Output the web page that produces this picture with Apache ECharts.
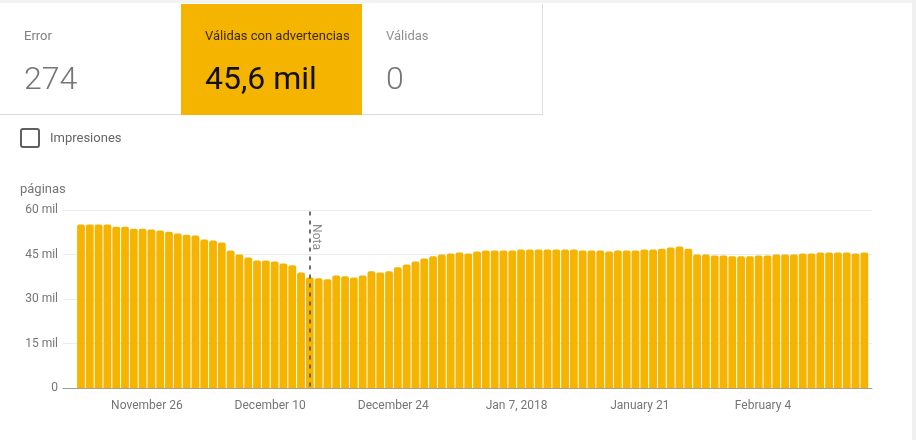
<!DOCTYPE html>
<html>
<head>
<meta charset="utf-8">
<style>
  html, body { margin: 0; padding: 0; background: #fff; }
  #chart { width: 916px; height: 440px; }
</style>
<script src="https://cdn.jsdelivr.net/npm/echarts@6/dist/echarts.min.js"></script>
</head>
<body>
<div id="chart"></div>
<script>
const categories = [
  "Nov 18", "Nov 19", "Nov 20", "Nov 21", "Nov 22", "Nov 23", "Nov 24", "Nov 25", "Nov 26", "Nov 27",
  "Nov 28", "Nov 29", "Nov 30", "Dec 1", "Dec 2", "Dec 3", "Dec 4", "Dec 5", "Dec 6", "Dec 7",
  "Dec 8", "Dec 9", "Dec 10", "Dec 11", "Dec 12", "Dec 13", "Dec 14", "Dec 15", "Dec 16", "Dec 17",
  "Dec 18", "Dec 19", "Dec 20", "Dec 21", "Dec 22", "Dec 23", "Dec 24", "Dec 25", "Dec 26", "Dec 27",
  "Dec 28", "Dec 29", "Dec 30", "Dec 31", "Jan 1", "Jan 2", "Jan 3", "Jan 4", "Jan 5", "Jan 6",
  "Jan 7", "Jan 8", "Jan 9", "Jan 10", "Jan 11", "Jan 12", "Jan 13", "Jan 14", "Jan 15", "Jan 16",
  "Jan 17", "Jan 18", "Jan 19", "Jan 20", "Jan 21", "Jan 22", "Jan 23", "Jan 24", "Jan 25", "Jan 26",
  "Jan 27", "Jan 28", "Jan 29", "Jan 30", "Jan 31", "Feb 1", "Feb 2", "Feb 3", "Feb 4", "Feb 5",
  "Feb 6", "Feb 7", "Feb 8", "Feb 9", "Feb 10", "Feb 11", "Feb 12", "Feb 13", "Feb 14", "Feb 15"
];
const paginas = [
  55100, 55100, 55100, 55100, 54400, 54400, 53700, 53700, 53400, 53100,
  52700, 52100, 51700, 51400, 50100, 49700, 49100, 46400, 45000, 44000,
  43000, 43000, 42700, 42000, 41400, 39000, 37300, 37000, 36700, 38000,
  37700, 37300, 38000, 39400, 39000, 39400, 40700, 41700, 42700, 43700,
  44400, 45000, 45400, 45700, 45400, 46000, 46400, 46400, 46400, 46400,
  46700, 46700, 46700, 46700, 46700, 46700, 46700, 46400, 46400, 46400,
  46000, 46400, 46400, 46400, 46700, 46700, 47000, 47400, 47700, 47000,
  45000, 45000, 44700, 44700, 44400, 44400, 44400, 44700, 44700, 45000,
  45000, 45000, 45400, 45400, 45700, 45700, 45700, 45700, 45400, 45700
];
const tickLabels = {
  "Nov 26": "November 26",
  "Dec 10": "December 10",
  "Dec 24": "December 24",
  "Jan 7": "Jan 7, 2018",
  "Jan 21": "January 21",
  "Feb 4": "February 4"
};
const yTicks = [0, 15000, 30000, 45000, 60000];
const noteDate = "Dec 14";

const GOLD = "#f4b400";
const FONT = "Roboto";

const label = (x, y, text, size, fill, weight) => ({
  type: "text",
  x: x,
  y: y,
  z: 10,
  style: {
    text: text,
    fill: fill,
    font: (weight || 400) + " " + size + "px " + FONT,
    verticalAlign: "middle"
  }
});

const box = (x, y, w, h, fill) => ({
  type: "rect",
  z: 1,
  shape: { x: x, y: y, width: w, height: h },
  style: { fill: fill }
});

const myChart = echarts.init(document.getElementById("chart"));
myChart.setOption({
  animation: false,
  backgroundColor: "#fff",
  textStyle: { fontFamily: FONT },
  graphic: [
    // page edges and the tiles above the chart
    box(0, 0, 916, 3, "#f3f3f3"),
    box(912, 0, 4, 440, "#f0f0f0"),
    box(0, 114, 543, 1, "#dcdcdc"),
    box(542, 4, 1, 111, "#dcdcdc"),
    box(181, 4, 181, 111, GOLD),
    label(24, 36.5, "Error", 13, "#808080"),
    label(24, 81, "274", 32, "#757575", 300),
    label(205, 36.5, "Válidas con advertencias", 13, "#3c2a00"),
    label(205, 81, "45,6 mil", 32, "#111111"),
    label(386, 36.5, "Válidas", 13, "#909090"),
    label(386, 81, "0", 32, "#757575", 300),
    {
      type: "rect",
      z: 10,
      shape: { x: 21, y: 129, width: 18, height: 18, r: 2 },
      style: { fill: "#fff", stroke: "#5f5f5f", lineWidth: 2 }
    },
    label(50, 139, "Impresiones", 13, "#666666"),
    label(20, 189.5, "páginas", 13, "#757575")
  ],
  grid: [
    { left: 76.6, right: 47.3, top: 210, height: 178.3 },
    { left: 63, right: 44, top: 210, height: 178.3 }
  ],
  xAxis: [
    {
      type: "category",
      gridIndex: 0,
      data: categories,
      axisLine: { show: false },
      axisTick: {
        length: 6,
        lineStyle: { color: "#8a8a8a" },
        interval: (i, name) => name in tickLabels
      },
      axisLabel: {
        interval: (i, name) => name in tickLabels,
        formatter: (name) => tickLabels[name],
        color: "#757575",
        fontFamily: FONT,
        fontSize: 12,
        margin: 12,
        padding: [0, 9, 0, 0]
      }
    },
    {
      type: "value",
      gridIndex: 1,
      min: 0,
      max: 1,
      axisLine: { show: true, onZero: false, lineStyle: { color: "#9a9a9a" } },
      axisTick: { show: false },
      axisLabel: { show: false },
      splitLine: { show: false }
    }
  ],
  yAxis: [
    { type: "value", gridIndex: 0, min: 0, max: 60000, interval: 15000, show: false },
    {
      type: "value",
      gridIndex: 1,
      min: yTicks[0],
      max: yTicks[yTicks.length - 1],
      interval: yTicks[1],
      axisLine: { show: false },
      axisTick: { show: false },
      axisLabel: {
        color: "#757575",
        fontFamily: FONT,
        fontSize: 12,
        margin: 5,
        padding: [5, 0, 0, 0],
        formatter: (v) => (v === 0 ? "0" : v / 1000 + " mil")
      },
      splitLine: { lineStyle: { color: "#ececec" } }
    }
  ],
  series: [
    {
      type: "bar",
      xAxisIndex: 0,
      yAxisIndex: 0,
      data: paginas,
      barWidth: 7.8,
      itemStyle: { color: GOLD, borderRadius: [2, 2, 0, 0] },
      markLine: {
        silent: true,
        symbol: "none",
        lineStyle: { color: "#555", type: [4, 5], width: 2, opacity: 0.85 },
        label: {
          formatter: "Nota",
          position: "end",
          rotate: -90,
          color: "#757575",
          fontFamily: FONT,
          fontSize: 12,
          offset: [32, 0]
        },
        data: [[
          { xAxis: noteDate, yAxis: 600 },
          { xAxis: noteDate, yAxis: 60000 }
        ]]
      }
    }
  ]
});
</script>
</body>
</html>
